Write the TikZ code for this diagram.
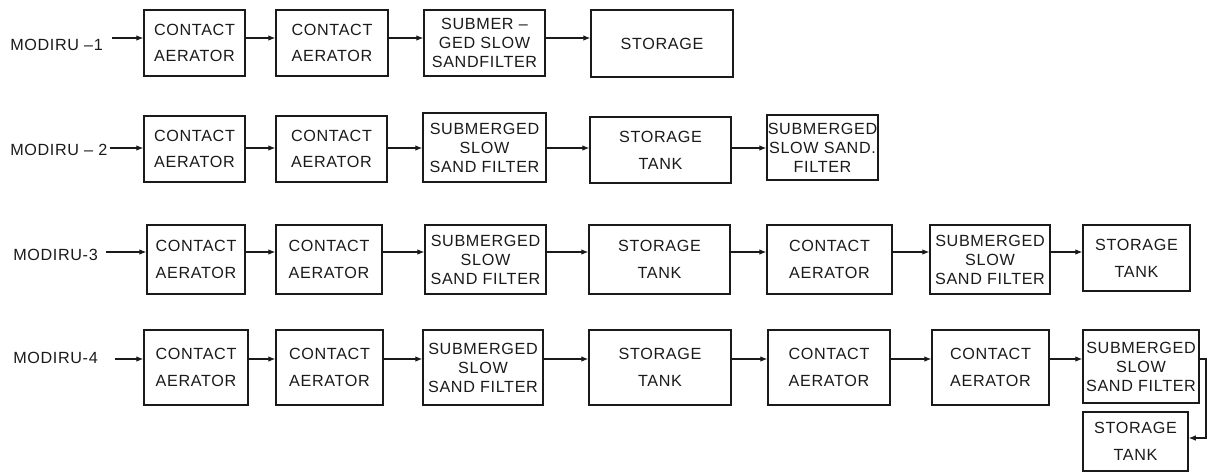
\documentclass[tikz,border=0pt]{standalone}
\usepackage{fontspec}
\usepackage{tikz}
\usetikzlibrary{arrows.meta}
\newfontfamily\boxfont[LetterSpace=4]{Liberation Sans}
\definecolor{MDInk}{HTML}{1A1A1A}

\begin{document}
\begin{tikzpicture}[x=0.025cm,y=-0.025cm,
  blk/.style={draw=MDInk,line width=1pt,inner sep=0pt,align=center,text=MDInk,
    font=\boxfont\fontsize{11.5}{13.5}\selectfont},
  two/.style={font=\boxfont\fontsize{11.5}{19}\selectfont},
  tag/.style={anchor=west,inner sep=0pt,text=MDInk,font=\boxfont\fontsize{11.5}{13}\selectfont},
  flow/.style={draw=MDInk,line width=0.8pt,-{Latex[length=5pt,width=4pt]}}]
\path[use as bounding box] (0,0) rectangle (1215,475);
\coordinate (r1) at (0,38);
\coordinate (r2) at (0,148);
\coordinate (r3) at (0,252);
\coordinate (r4) at (0,359);
\coordinate (turn) at (1206,438);
\node[tag] (m1) at (10,45) {MODIRU –1};
\node[blk,two,minimum width=2.525cm,minimum height=1.65cm] (a1) at (194.5,43) {CONTACT\\AERATOR};
\node[blk,two,minimum width=2.8cm,minimum height=1.65cm] (b1) at (332,43) {CONTACT\\AERATOR};
\node[blk,minimum width=3.025cm,minimum height=1.65cm] (c1) at (484.5,43) {SUBMER –\\GED SLOW\\SANDFILTER};
\node[blk,minimum width=3.55cm,minimum height=1.675cm] (d1) at (662,43.5) {STORAGE};
\node[tag] (m2) at (10,150) {MODIRU – 2};
\node[blk,two,minimum width=2.525cm,minimum height=1.65cm] (a2) at (194.5,149) {CONTACT\\AERATOR};
\node[blk,two,minimum width=2.775cm,minimum height=1.65cm] (b2) at (331.5,149) {CONTACT\\AERATOR};
\node[blk,minimum width=3.075cm,minimum height=1.725cm] (c2) at (484.5,147.5) {SUBMERGED\\SLOW\\SAND FILTER};
\node[blk,two,minimum width=3.525cm,minimum height=1.65cm] (d2) at (660.5,150) {STORAGE\\TANK};
\node[blk,minimum width=2.775cm,minimum height=1.625cm] (e2) at (822.5,147.5) {SUBMERGED\\SLOW SAND.\\FILTER};
\node[tag] (m3) at (13,255) {MODIRU-3};
\node[blk,two,minimum width=2.45cm,minimum height=1.725cm] (a3) at (196,259.5) {CONTACT\\AERATOR};
\node[blk,two,minimum width=2.65cm,minimum height=1.725cm] (b3) at (329,259.5) {CONTACT\\AERATOR};
\node[blk,minimum width=3.025cm,minimum height=1.725cm] (c3) at (485.5,259.5) {SUBMERGED\\SLOW\\SAND FILTER};
\node[blk,two,minimum width=3.525cm,minimum height=1.725cm] (d3) at (659.5,259.5) {STORAGE\\TANK};
\node[blk,two,minimum width=3.125cm,minimum height=1.725cm] (e3) at (829.5,259.5) {CONTACT\\AERATOR};
\node[blk,minimum width=3.0cm,minimum height=1.725cm] (f3) at (990,259.5) {SUBMERGED\\SLOW\\SAND FILTER};
\node[blk,two,minimum width=2.675cm,minimum height=1.65cm] (g3) at (1136.5,258) {STORAGE\\TANK};
\node[tag] (m4) at (13,358) {MODIRU-4};
\node[blk,two,minimum width=2.6cm,minimum height=1.875cm] (a4) at (196,367.5) {CONTACT\\AERATOR};
\node[blk,two,minimum width=2.675cm,minimum height=1.875cm] (b4) at (329.5,367.5) {CONTACT\\AERATOR};
\node[blk,minimum width=3.0cm,minimum height=1.875cm] (c4) at (483,367.5) {SUBMERGED\\SLOW\\SAND FILTER};
\node[blk,two,minimum width=3.55cm,minimum height=1.875cm] (d4) at (660,367.5) {STORAGE\\TANK};
\node[blk,two,minimum width=3.05cm,minimum height=1.875cm] (e4) at (829,367.5) {CONTACT\\AERATOR};
\node[blk,two,minimum width=2.925cm,minimum height=1.875cm] (f4) at (990.5,367.5) {CONTACT\\AERATOR};
\node[blk,minimum width=2.9cm,minimum height=1.825cm] (g4) at (1141,366.5) {SUBMERGED\\SLOW\\SAND FILTER};
\node[blk,two,minimum width=2.625cm,minimum height=1.475cm] (h4) at (1135.5,441.5) {STORAGE\\TANK};
\draw[flow,shorten <=6pt] (m1.east |- r1) -- (a1.west |- r1);
\draw[flow] (a1.east |- r1) -- (b1.west |- r1);
\draw[flow] (b1.east |- r1) -- (c1.west |- r1);
\draw[flow] (c1.east |- r1) -- (d1.west |- r1);
\draw[flow,shorten <=2pt] (m2.east |- r2) -- (a2.west |- r2);
\draw[flow] (a2.east |- r2) -- (b2.west |- r2);
\draw[flow] (b2.east |- r2) -- (c2.west |- r2);
\draw[flow] (c2.east |- r2) -- (d2.west |- r2);
\draw[flow] (d2.east |- r2) -- (e2.west |- r2);
\draw[flow,shorten <=6pt] (m3.east |- r3) -- (a3.west |- r3);
\draw[flow] (a3.east |- r3) -- (b3.west |- r3);
\draw[flow] (b3.east |- r3) -- (c3.west |- r3);
\draw[flow] (c3.east |- r3) -- (d3.west |- r3);
\draw[flow] (d3.east |- r3) -- (e3.west |- r3);
\draw[flow] (e3.east |- r3) -- (f3.west |- r3);
\draw[flow] (f3.east |- r3) -- (g3.west |- r3);
\draw[flow,shorten <=12pt] (m4.east |- r4) -- (a4.west |- r4);
\draw[flow] (a4.east |- r4) -- (b4.west |- r4);
\draw[flow] (b4.east |- r4) -- (c4.west |- r4);
\draw[flow] (c4.east |- r4) -- (d4.west |- r4);
\draw[flow] (d4.east |- r4) -- (e4.west |- r4);
\draw[flow] (e4.east |- r4) -- (f4.west |- r4);
\draw[flow] (f4.east |- r4) -- (g4.west |- r4);
\draw[flow] (g4.east |- r4) -| (turn) -- (h4.east |- turn);
\end{tikzpicture}
\end{document}
